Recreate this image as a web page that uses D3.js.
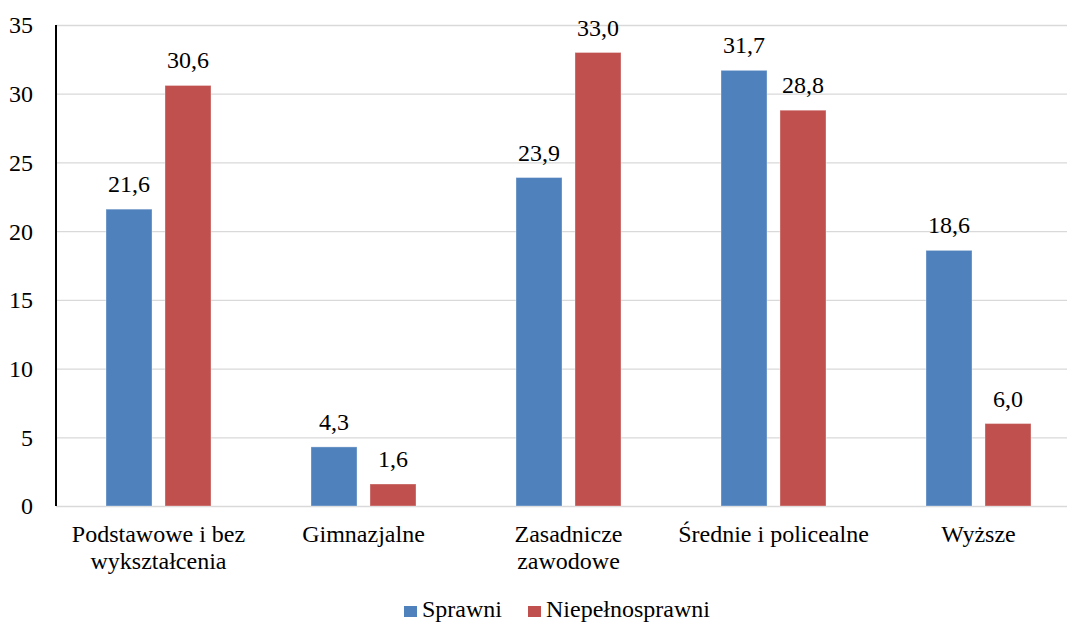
<!DOCTYPE html>
<html>
<head>
<meta charset="utf-8">
<script src="https://cdn.jsdelivr.net/npm/d3@7"></script>
<style>
  body { margin: 0; background: #fff; }
</style>
</head>
<body>
<svg id="chart" width="1067" height="624" style="font-family:'Liberation Serif';font-size:24px"></svg>
<script>
// data
const categories = [["Podstawowe i bez", "wykształcenia"], ["Gimnazjalne"], ["Zasadnicze", "zawodowe"], ["Średnie i policealne"], ["Wyższe"]];
const seriesNames = ["Sprawni", "Niepełnosprawni"];
const sprawni = [21.6, 4.3, 23.9, 31.7, 18.6];
const niepelnosprawni = [30.6, 1.6, 33.0, 28.8, 6.0];
const yTicks = [0, 5, 10, 15, 20, 25, 30, 35];
const colors = ["#4F81BD", "#C0504D"];

const TXT = "font-family:'Liberation Serif';font-size:24px;fill:#000";
const W = 1067, H = 624;
const margin = {top: 25, left: 56, bottom: 118};
const gridWidth = W - margin.left;
const plotWidth = 1025; // category area runs past the right edge
const height = H - margin.top - margin.bottom;

const root = d3.select("#chart");
const svg = root.append("g")
    .attr("transform", `translate(${margin.left},${margin.top})`);

const keys = categories.map(c => c.join(" "));
const rows = keys.map((k, i) => ({key: k, lines: categories[i], vals: [sprawni[i], niepelnosprawni[i]]}));

const x0 = d3.scaleBand().domain(keys).range([0, plotWidth]);
const bw = x0.bandwidth();
const x1 = d3.scaleBand().domain([0, 1])
    .range([bw / 2 - 52.5, bw / 2 + 52.5])
    .paddingInner(0.22);
const y = d3.scaleLinear().domain([0, 35]).range([height, 0]);

// gridlines
svg.append("g")
    .call(d3.axisLeft(y).tickValues(yTicks).tickSize(-gridWidth).tickFormat(""))
    .call(g => g.select(".domain").remove())
    .call(g => g.selectAll("line").attr("stroke", "#d9d9d9").attr("stroke-width", 1.3));

// y axis labels
svg.append("g")
    .call(d3.axisLeft(y).tickValues(yTicks).tickSize(0).tickPadding(23))
    .call(g => g.attr("font-family", null).attr("font-size", null))
    .call(g => g.select(".domain").remove())
    .call(g => g.selectAll("text")
        .attr("style", TXT)
        .attr("fill", "#000")
        .attr("dy", "0.33em"));

// bars
const grp = svg.selectAll(".cat").data(rows).enter().append("g")
    .attr("class", "cat")
    .attr("transform", d => `translate(${x0(d.key)},0)`);

grp.selectAll("rect").data(d => d.vals).enter().append("rect")
    .attr("x", (d, i) => x1(i))
    .attr("y", d => y(d))
    .attr("width", x1.bandwidth())
    .attr("height", d => y(0) - y(d))
    .attr("fill", (d, i) => colors[i])
    .attr("stroke", "#ffffff")
    .attr("stroke-opacity", 0.35)
    .attr("stroke-width", 1);

grp.selectAll(".val").data(d => d.vals).enter().append("text")
    .attr("class", "val")
    .attr("x", (d, i) => x1(i) + x1.bandwidth() / 2)
    .attr("y", d => y(d) - 17)
    .attr("text-anchor", "middle")
    .attr("style", TXT)
    .text(d => d3.format(".1f")(d).replace(".", ","));

// category labels
grp.append("text")
    .attr("text-anchor", "middle")
    .attr("style", TXT)
    .selectAll("tspan").data(d => d.lines).enter().append("tspan")
    .attr("x", bw / 2)
    .attr("y", (d, i) => height + 36 + i * 26.5)
    .text(d => d);

// left axis line
svg.append("line")
    .attr("x1", 0).attr("x2", 0)
    .attr("y1", 0).attr("y2", height)
    .attr("stroke", "#000").attr("stroke-width", 2);

// legend
const legend = root.append("g").attr("transform", "translate(404,617)");
const legX = [0, 124];
seriesNames.forEach((s, i) => {
  legend.append("rect")
      .attr("x", legX[i]).attr("y", -11)
      .attr("width", 13).attr("height", 11)
      .attr("fill", colors[i]);
  legend.append("text")
      .attr("x", legX[i] + 18).attr("y", 0)
      .attr("style", TXT)
      .text(s);
});
</script>
</body>
</html>
